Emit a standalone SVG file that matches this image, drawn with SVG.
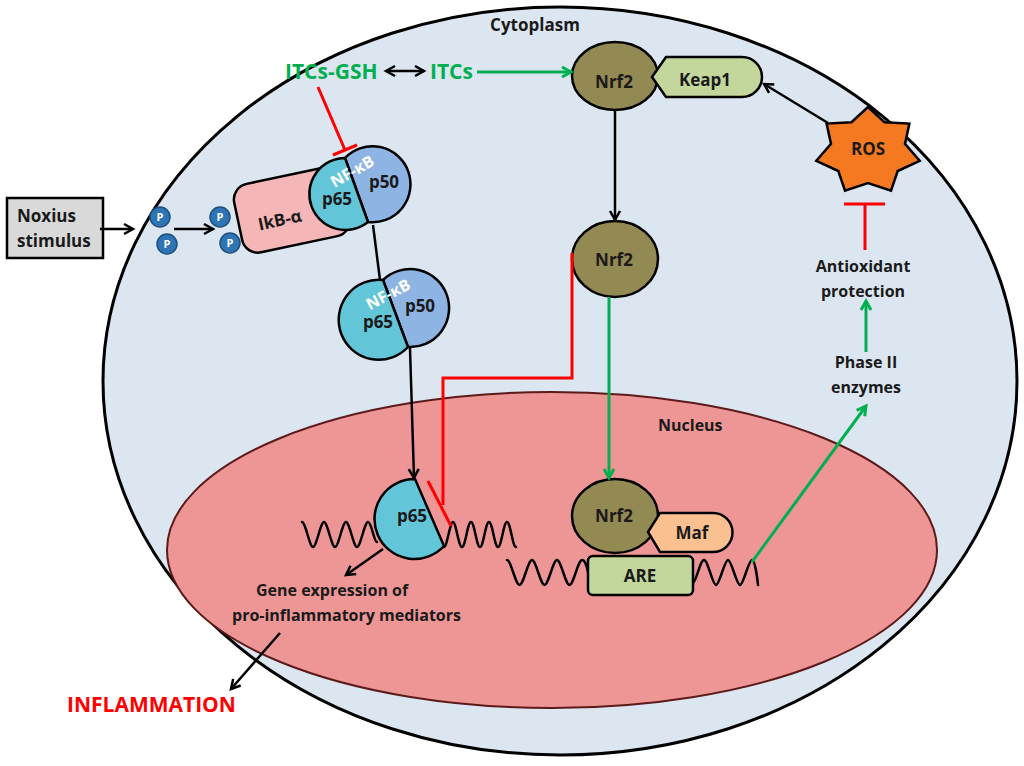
<svg xmlns="http://www.w3.org/2000/svg" width="1024" height="766" viewBox="0 0 1024 766">
<defs>
<style>
text{font-family:"Open Sans","Liberation Sans",sans-serif;font-weight:bold;fill:#1a1a1a}
.t16{font-size:16px}
.t17{font-size:17px}
.mid{text-anchor:middle}
.gtx{fill:#00B050;font-size:21px}
.wave{fill:none;stroke:#000;stroke-width:2.5;stroke-linejoin:round;stroke-linecap:round}
.blk{fill:none;stroke:#000;stroke-width:2.5}
.grn{fill:none;stroke:#00B050;stroke-width:3}
.red{fill:none;stroke:#FF0000;stroke-width:3}
.p65{fill:#63C5D8;stroke:#000;stroke-width:2.5}
.p50{fill:#8DB4E2;stroke:#000;stroke-width:2.5}
.nrf2{fill:#938953;stroke:#000;stroke-width:2.5}
.lg{fill:#C3D69B;stroke:#000;stroke-width:2.5}
.phos{fill:#2E75B6;stroke:#1F4E79;stroke-width:1.5}
.pt{font-size:11px;fill:#fff;text-anchor:middle}
.nf{font-size:16px;fill:#fff;text-anchor:middle}
</style>
<marker id="ab" viewBox="0 0 12 12" refX="10" refY="6" markerWidth="12" markerHeight="12" markerUnits="userSpaceOnUse" orient="auto-start-reverse" overflow="visible">
<path d="M1,1 L10,6 L1,11" fill="none" stroke="#000" stroke-width="2.5"/>
</marker>
<marker id="ag" viewBox="0 0 12 12" refX="10" refY="6" markerWidth="12" markerHeight="12" markerUnits="userSpaceOnUse" orient="auto-start-reverse" overflow="visible">
<path d="M1,1 L10,6 L1,11" fill="none" stroke="#00B050" stroke-width="3"/>
</marker>
</defs>

<g id="cell">
<ellipse cx="560" cy="381" rx="457" ry="374" fill="#DCE6F1" stroke="#000" stroke-width="3"/>
<text class="t17 mid" x="535" y="31">Cytoplasm</text>
</g>

<g id="nucleus">
<ellipse cx="552" cy="550" rx="385" ry="158" fill="#EE9696" stroke="#5C1A1A" stroke-width="2"/>
<text class="t16" x="658" y="431">Nucleus</text>
</g>

<g id="noxius">
<rect x="7" y="198" width="96" height="60" fill="#D9D9D9" stroke="#000" stroke-width="2.5"/>
<text class="t17" x="17" y="222">Noxius</text>
<text class="t17" x="17" y="247">stimulus</text>
</g>

<g id="phosphates">
<circle class="phos" cx="160" cy="217" r="10"/><text class="pt" x="160" y="221">P</text>
<circle class="phos" cx="167" cy="244" r="10"/><text class="pt" x="167" y="248">P</text>
</g>

<g id="ikb">
<rect x="237" y="175" width="110" height="70" rx="16" fill="#F4B6B6" stroke="#000" stroke-width="2.5" transform="rotate(-12 292 210)"/>
<text class="t17 mid" transform="translate(280,221) rotate(-12)" x="0" y="5">IkB-α</text>
<circle class="phos" cx="220" cy="217" r="10"/><text class="pt" x="220" y="221">P</text>
<circle class="phos" cx="230" cy="243" r="10"/><text class="pt" x="230" y="247">P</text>
</g>

<g id="nfkb1">
<path class="p50" d="M345,158 A38,38 0 1 1 368,222 Z"/>
<path class="p65" d="M345,158 L368,222 A36,36 0 1 1 345,158 Z"/>
<text class="t17 mid" x="337" y="205">p65</text>
<text class="t17 mid" x="384" y="188">p50</text>
<text class="nf" transform="translate(352,171) rotate(-30)" x="0" y="6">NF-κB</text>
</g>

<g id="nfkb2">
<path class="p50" d="M383,280 A39,39 0 1 1 408,347 Z"/>
<path class="p65" d="M383,280 L408,347 A40,40 0 1 1 383,280 Z"/>
<text class="t17 mid" x="378" y="328">p65</text>
<text class="t17 mid" x="420" y="312">p50</text>
<text class="nf" transform="translate(388,294) rotate(-28)" x="0" y="6">NF-κB</text>
</g>

<g id="dna-p65">
<path class="wave" d="M302,522 C305.5,522 309.5,547 313,547 S320.5,522 324,522 S331.5,547 335,547 S342.5,522 346,522 S353.5,547 357,547 S364.5,522 368,522 S374,542 377,542"/>
<path class="wave" d="M444,547 C447,547 450,522 453,522 S458.5,547 462,547 S467.5,522 471,522 S476.5,547 480,547 S485.5,522 489,522 S494.5,547 498,547 S503.5,522 507,522 S512.5,547 516,547"/>
</g>

<g id="p65-nucleus">
<path class="p65" d="M415,479 L444,546 A40,40 0 1 1 415,479 Z"/>
<text class="t17 mid" x="412" y="522">p65</text>
</g>

<g id="gene-text">
<text class="t16" x="256" y="596">Gene expression of</text>
<text class="t16" x="232" y="621">pro-inflammatory mediators</text>
</g>

<g id="inflammation">
<text x="67" y="712" style="font-size:21px;fill:#FF0000">INFLAMMATION</text>
</g>

<g id="itcs">
<text class="gtx" x="285" y="79">ITCs-GSH</text>
<text class="gtx" x="430" y="79">ITCs</text>
</g>

<g id="nrf2-top">
<ellipse class="nrf2" cx="615" cy="76" rx="43" ry="34"/>
</g>
<g id="keap1">
<path class="lg" d="M652,77 L666,57 L742,57 A20,20 0 0 1 742,97 L666,97 Z"/>
<text class="t17 mid" x="705" y="86">Keap1</text>
</g>
<g id="nrf2-top-label"><text class="t17 mid" x="614" y="88">Nrf2</text></g>

<g id="nrf2-mid">
<ellipse class="nrf2" cx="615" cy="259" rx="43" ry="38"/>
<text class="t17 mid" x="614" y="266">Nrf2</text>
</g>

<g id="dna-are">
<path class="wave" d="M507,560 C511,560 515.5,585 519.5,585 S528,560 532,560 S540.5,585 544.5,585 S553,560 557,560 S565.5,585 569.5,585 S578,560 582,560 S588,572 588,572"/>
<path class="wave" d="M693,583 C696,583 700,560 704,560 S712.5,585 716,585 S724.5,560 728,560 S736.5,585 740,585 S748.5,560 752,560 S758,585 758,585"/>
</g>

<g id="nrf2-nuc">
<ellipse class="nrf2" cx="615" cy="516" rx="43" ry="37"/>
<text class="t17 mid" x="614" y="522">Nrf2</text>
</g>
<g id="maf">
<path d="M648,532 L660,513 L713,513 A19.5,19.5 0 0 1 713,552 L660,552 Z" fill="#FAC090" stroke="#000" stroke-width="2.5"/>
<text class="t17 mid" x="692" y="539">Maf</text>
</g>
<g id="are">
<rect class="lg" x="588" y="556" width="105" height="39" rx="5"/>
<text class="t17 mid" x="640" y="582">ARE</text>
</g>

<g id="ros">
<polygon points="868,107 884.5,122.2 909.4,123.6 905,143.9 919.7,160.8 897.7,171 891,190.6 868,183 845,190.6 838.3,171 816.3,160.8 831,143.9 826.6,123.6 851.5,122.2" fill="#F47920" stroke="#000" stroke-width="2.5" stroke-linejoin="miter"/>
<text class="t17 mid" x="868" y="155">ROS</text>
</g>

<g id="antioxidant">
<text class="t16 mid" x="863" y="272">Antioxidant</text>
<text class="t16 mid" x="863" y="297">protection</text>
</g>
<g id="phase2">
<text class="t16 mid" x="866" y="368">Phase II</text>
<text class="t16 mid" x="866" y="393">enzymes</text>
</g>

<g id="connectors">
<line class="blk" x1="100" y1="229" x2="133" y2="229" marker-end="url(#ab)"/>
<line class="blk" x1="174" y1="229" x2="213" y2="229" marker-end="url(#ab)"/>
<line class="blk" x1="386" y1="71" x2="424" y2="71" marker-start="url(#ab)" marker-end="url(#ab)"/>
<line class="grn" x1="477" y1="72" x2="571" y2="72" marker-end="url(#ag)"/>
<line class="red" x1="318" y1="87" x2="345" y2="150"/>
<line class="red" x1="333" y1="155" x2="357" y2="145"/>
<line class="blk" x1="373" y1="225" x2="380" y2="280"/>
<line class="blk" x1="410" y1="348" x2="414" y2="478" marker-end="url(#ab)"/>
<line class="blk" x1="615" y1="110" x2="615" y2="220" marker-end="url(#ab)"/>
<line class="blk" x1="828" y1="123" x2="764" y2="84" marker-end="url(#ab)"/>
<line class="red" x1="865" y1="250" x2="865" y2="204"/>
<line class="red" x1="844" y1="204" x2="885" y2="204"/>
<line class="grn" x1="866" y1="352" x2="866" y2="301" marker-end="url(#ag)"/>
<line class="grn" x1="752" y1="562" x2="866" y2="406" marker-end="url(#ag)"/>
<line class="grn" x1="609" y1="297" x2="609" y2="478" marker-end="url(#ag)"/>
<polyline class="red" points="572,253 572,378 443,378 443,505"/>
<line class="red" x1="428" y1="481" x2="451" y2="526"/>
<line class="blk" x1="383" y1="549" x2="346" y2="575" marker-end="url(#ab)"/>
<line class="blk" x1="280" y1="633" x2="231" y2="689" marker-end="url(#ab)"/>
</g>
</svg>
